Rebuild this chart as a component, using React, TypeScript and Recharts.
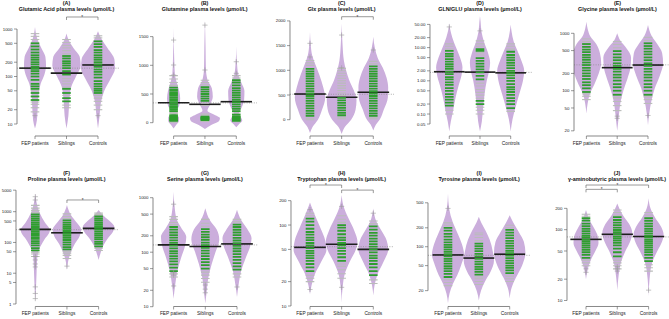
import React from "react";
import { ComposedChart, Area, Scatter, XAxis, YAxis, ReferenceLine } from "recharts";

const GROUPS = ["FEP patients", "Siblings", "Controls"];

// violin outline knots: [value, half-width in group spacings]
type Knot = [number, number];

// (A) Glutamic acid
const gluTicks = [10, 20, 50, 100, 200, 500, 1000];
const gluShape: Knot[][] = [
  [[8, 0], [12, 0.06], [25, 0.09], [45, 0.12], [70, 0.18], [110, 0.3], [170, 0.35], [260, 0.33], [400, 0.2], [600, 0.08], [1100, 0]],
  [[8, 0], [15, 0.06], [30, 0.09], [60, 0.15], [100, 0.3], [170, 0.45], [260, 0.42], [400, 0.22], [600, 0.06], [800, 0]],
  [[8, 0], [15, 0.05], [30, 0.1], [50, 0.2], [90, 0.4], [150, 0.54], [230, 0.52], [400, 0.3], [600, 0.12], [900, 0]],
];
const gluGreen = [
  [32, 38, 45, 55, 62, 70, 85, 100, 115, 130, 145, 160, 180, 200, 225, 250, 280, 320, 370, 430, 500],
  [30, 35, 45, 55, 110, 130, 150, 170, 190, 210, 240, 270],
  [45, 50, 55, 62, 70, 80, 95, 110, 125, 140, 160, 180, 200, 225, 250, 280, 320, 360, 420, 480, 550],
];
const gluGrey = [
  [18, 22, 26, 29, 50, 600, 700, 800],
  [22, 25, 40, 60, 70, 80, 90, 300, 350, 400, 450, 520, 600],
  [20, 25, 30, 35, 40, 650, 720],
];
const gluOut = [[15], [], [15]];
const gluMeans = [150, 118, 175];
const gluOverall = 150;
const gluSig = [[2, 3, 1790]];

// (B) Glutamine
const glnTicks = [0, 500, 1000, 1500];
const glnShape: Knot[][] = [
  [[-100, 0], [-40, 0.08], [30, 0.17], [90, 0.17], [150, 0.06], [200, 0.08], [300, 0.18], [420, 0.21], [550, 0.18], [700, 0.1], [850, 0.04], [1100, 0.02], [1650, 0]],
  [[-110, 0], [-40, 0.2], [30, 0.45], [80, 0.48], [140, 0.3], [210, 0.08], [300, 0.15], [450, 0.25], [600, 0.22], [750, 0.08], [950, 0.03], [1300, 0.02], [1780, 0]],
  [[-80, 0], [-20, 0.1], [40, 0.19], [100, 0.14], [160, 0.08], [250, 0.16], [400, 0.25], [550, 0.26], [700, 0.16], [850, 0.06], [1050, 0.02], [1330, 0]],
];
const glnGreen = [
  [30, 45, 60, 75, 90, 110, 130, 200, 230, 260, 290, 320, 350, 380, 410, 440, 470, 500, 530, 570, 610],
  [45, 55, 65, 75, 85, 95, 105, 380, 420, 460, 500, 540, 580, 620],
  [30, 50, 70, 90, 110, 140, 200, 240, 280, 320, 360, 400, 440, 480, 520, 560, 600, 650, 700, 740],
];
const glnGrey = [
  [10, 160, 180, 650, 700, 760, 820],
  [20, 30, 120, 150, 300, 340, 660, 700, 740],
  [15, 170, 780, 820],
];
const glnOut = [[830, 1005, 1440], [918, 1700], [860, 1062]];
const glnMeans = [348, 320, 366];
const glnOverall = 345;
const glnSig: number[][] = [];

// (C) Glx
const glxTicks = [0, 500, 1000, 1500, 2000];
const glxShape: Knot[][] = [
  [[-270, 0], [-150, 0.08], [0, 0.25], [200, 0.38], [450, 0.48], [650, 0.42], [900, 0.3], [1100, 0.18], [1300, 0.07], [1550, 0.02], [1780, 0]],
  [[-290, 0], [-150, 0.1], [0, 0.3], [200, 0.44], [400, 0.47], [600, 0.38], [800, 0.24], [1000, 0.14], [1200, 0.07], [1500, 0.03], [1950, 0]],
  [[-220, 0], [-100, 0.08], [0, 0.2], [200, 0.33], [450, 0.46], [650, 0.47], [850, 0.42], [1050, 0.3], [1250, 0.14], [1450, 0.05], [1680, 0]],
];
const glxGreen = [
  [80, 130, 180, 230, 280, 330, 380, 430, 480, 530, 580, 630, 680, 730, 780, 830, 880, 930, 980, 1030],
  [90, 140, 190, 240, 290, 340, 390, 440],
  [80, 130, 180, 230, 280, 330, 380, 430, 480, 530, 580, 630, 680, 730, 780, 830, 880, 930, 980, 1030, 1080],
];
const glxGrey = [
  [0, 30, 1100, 1150, 1200],
  [20, 50, 490, 540, 590, 640, 690, 740, 790, 840, 890, 940, 990, 1040],
  [20, 40, 1130, 1180],
];
const glxOut = [[1270, 1546], [1050, 1714], [1411]];
const glxMeans = [520, 453, 555];
const glxOverall = 515;
const glxSig = [[2, 3, 2085]];

// (D) GLN/GLU ratio
const ratioTicks = [0.05, 0.1, 0.2, 0.5, 1, 2, 5, 10, 20, 50];
const ratioShape: Knot[][] = [
  [[0.03, 0], [0.06, 0.05], [0.12, 0.12], [0.3, 0.2], [0.7, 0.3], [1.5, 0.4], [2.5, 0.43], [5, 0.35], [10, 0.22], [20, 0.1], [35, 0.03], [54, 0]],
  [[0.03, 0], [0.06, 0.06], [0.15, 0.1], [0.4, 0.15], [1, 0.22], [2, 0.3], [3.5, 0.33], [7, 0.26], [15, 0.13], [30, 0.05], [60, 0.02], [90, 0]],
  [[0.03, 0], [0.07, 0.06], [0.15, 0.15], [0.4, 0.28], [1, 0.4], [2, 0.44], [4, 0.35], [8, 0.22], [15, 0.1], [30, 0.03], [50, 0]],
];
const ratioGreen = [
  [0.18, 0.22, 0.27, 0.33, 0.4, 0.5, 0.6, 0.75, 0.9, 1.1, 1.3, 1.6, 1.9, 2.3, 2.7, 3.2, 3.8, 4.5, 5.5, 6.5, 8],
  [0.2, 0.25, 1.1, 1.4, 1.8, 2.2, 2.7, 3.3, 4, 4.8, 8, 9],
  [0.15, 0.2, 0.25, 0.3, 0.38, 0.46, 0.55, 0.65, 0.8, 1, 1.2, 1.45, 1.7, 2, 2.4, 2.9, 3.5, 4.2, 5, 6, 7.5],
];
const ratioGrey = [
  [0.1, 0.13, 9, 11, 13],
  [0.1, 0.13, 0.16, 0.3, 0.37, 0.45, 0.55, 0.7, 0.85, 6, 7, 11, 13, 16],
  [0.12, 9, 11, 13],
];
const ratioOut = [[42], [32], []];
const ratioMeans = [1.88, 1.83, 1.74];
const ratioOverall = 1.8;
const ratioSig: number[][] = [];

// (E) Glycine
const glyTicks = [20, 50, 100, 200, 500, 1000];
const glyShape: Knot[][] = [
  [[40, 0], [60, 0.04], [90, 0.12], [130, 0.26], [200, 0.4], [300, 0.48], [450, 0.44], [650, 0.32], [900, 0.12], [1200, 0.04], [1590, 0]],
  [[20, 0], [35, 0.05], [60, 0.1], [100, 0.2], [160, 0.33], [250, 0.43], [380, 0.45], [550, 0.3], [750, 0.1], [1000, 0]],
  [[25, 0], [40, 0.04], [70, 0.12], [110, 0.22], [180, 0.38], [300, 0.49], [450, 0.46], [650, 0.3], [900, 0.12], [1400, 0]],
];
const glyGreen = [
  [95, 110, 125, 140, 160, 180, 200, 225, 250, 280, 310, 345, 380, 420, 470, 520, 580, 650],
  [85, 100, 115, 130, 150, 170, 190, 215, 240, 270, 300, 340, 380, 430, 490],
  [85, 100, 115, 130, 150, 170, 190, 215, 240, 270, 300, 340, 380, 430, 480, 540, 600, 670],
];
const glyGrey = [
  [70, 80, 88, 720, 800],
  [45, 55, 65, 75, 560, 640, 720],
  [60, 70, 78, 750, 850],
];
const glyOut = [[], [33, 36], [37]];
const glyMeans = [307, 252, 280];
const glyOverall = 282;
const glySig: number[][] = [];

// (F) Proline
const proTicks = [1, 5, 10, 50, 100, 500, 1000, 5000];
const proShape: Knot[][] = [
  [[1.2, 0], [3, 0.02], [10, 0.04], [30, 0.06], [60, 0.12], [120, 0.28], [250, 0.46], [450, 0.3], [900, 0.14], [2000, 0.04], [3900, 0]],
  [[13, 0], [25, 0.04], [50, 0.13], [90, 0.25], [160, 0.4], [260, 0.45], [450, 0.3], [800, 0.12], [1650, 0]],
  [[27, 0], [45, 0.06], [80, 0.15], [140, 0.3], [220, 0.45], [320, 0.5], [500, 0.35], [800, 0.12], [1130, 0]],
];
const proGreen = [
  [55, 65, 80, 95, 110, 130, 150, 175, 200, 230, 260, 300, 340, 390, 450, 520, 600, 700, 820],
  [60, 70, 85, 100, 120, 140, 165, 190, 220, 250, 290, 330, 380, 440, 520],
  [75, 90, 105, 125, 145, 170, 195, 225, 260, 300, 340, 390, 450, 520, 600, 700],
];
const proGrey = [
  [35, 42, 48, 950, 1100, 1300, 1600],
  [30, 38, 45, 52, 600, 700, 850],
  [55, 65, 800, 900],
];
const proOut = [[1.5, 2.2, 3.6, 16, 20, 27, 35, 2400, 3070], [17], []];
const proMeans = [266, 206, 287];
const proOverall = 260;
const proSig = [[2, 3, 2400]];

// (G) Serine
const serTicks = [10, 20, 50, 100, 200, 500, 1000];
const serShape: Knot[][] = [
  [[14, 0], [25, 0.05], [45, 0.12], [80, 0.24], [130, 0.36], [190, 0.4], [280, 0.24], [400, 0.1], [700, 0.03], [1290, 0]],
  [[11.5, 0], [18, 0.04], [35, 0.1], [60, 0.2], [100, 0.32], [170, 0.44], [260, 0.36], [380, 0.15], [640, 0]],
  [[15, 0], [25, 0.05], [45, 0.13], [80, 0.28], [130, 0.42], [180, 0.46], [270, 0.32], [400, 0.12], [600, 0]],
];
const serGreen = [
  [45, 52, 60, 68, 76, 85, 95, 105, 118, 132, 148, 165, 185, 205, 230, 260, 290],
  [50, 58, 66, 75, 85, 95, 107, 120, 135, 150, 168, 188, 210, 235, 265],
  [48, 55, 63, 72, 82, 92, 104, 117, 131, 147, 164, 183, 205, 230, 258, 290, 320],
];
const serGrey = [
  [35, 40, 320, 350, 400, 450],
  [28, 33, 38, 43, 300, 340, 400],
  [35, 40, 360, 400],
];
const serOut = [[24, 38, 42, 760], [18, 21, 25], [23]];
const serMeans = [136, 127, 142];
const serOverall = 136;
const serSig: number[][] = [];

// (H) Tryptophan
const trpTicks = [10, 20, 50, 100, 200];
const trpShape: Knot[][] = [
  [[14, 0], [18, 0.05], [25, 0.16], [35, 0.35], [50, 0.52], [65, 0.48], [90, 0.34], [120, 0.2], [160, 0.07], [190, 0]],
  [[11, 0], [17, 0.03], [25, 0.1], [35, 0.25], [50, 0.45], [62, 0.5], [85, 0.4], [120, 0.22], [170, 0.06], [235, 0]],
  [[13.5, 0], [18, 0.04], [25, 0.14], [35, 0.32], [50, 0.47], [65, 0.42], [85, 0.26], [110, 0.1], [160, 0]],
];
const trpGreen = [
  [27, 30, 33, 36, 39, 42, 45, 48, 52, 56, 60, 65, 70, 76, 82, 90, 100, 110, 120],
  [36, 40, 44, 48, 52, 56, 60, 65, 70, 77, 85, 93, 100],
  [24, 27, 30, 33, 36, 39, 42, 46, 50, 54, 58, 63, 68, 74, 80, 88, 96],
];
const trpGrey = [
  [20, 22, 24, 130, 140],
  [22, 25, 28, 31, 33, 108, 118, 130],
  [19, 21, 104, 112],
];
const trpOut = [[16, 155], [17, 170], [140]];
const trpMeans = [53, 58, 50];
const trpOverall = 54;
const trpSig = [[1, 2, 312], [2, 3, 270]];

// (I) Tyrosine
const tyrTicks = [20, 50, 100, 200, 500];
const tyrShape: Knot[][] = [
  [[12.6, 0], [18, 0.05], [25, 0.15], [35, 0.3], [50, 0.42], [75, 0.52], [110, 0.45], [160, 0.32], [250, 0.15], [400, 0.04], [706, 0]],
  [[14, 0], [20, 0.07], [28, 0.2], [40, 0.38], [60, 0.49], [85, 0.45], [130, 0.35], [180, 0.22], [240, 0.08], [300, 0]],
  [[15, 0], [22, 0.06], [32, 0.2], [50, 0.4], [80, 0.51], [120, 0.46], [170, 0.3], [240, 0.12], [318, 0]],
];
const tyrGreen = [
  [33, 37, 41, 45, 49, 54, 59, 64, 70, 76, 83, 90, 98, 107, 117, 130, 145, 160, 180, 200],
  [36, 40, 44, 48, 53, 58, 64, 70, 77, 85, 93, 102, 112],
  [38, 42, 46, 50, 55, 60, 66, 72, 79, 86, 94, 103, 113, 124, 137, 152, 168, 185],
];
const tyrGrey = [
  [24, 27, 30, 220, 240],
  [25, 28, 31, 33, 125, 140, 155, 165],
  [28, 31, 34, 200, 220],
];
const tyrOut = [[407], [], []];
const tyrMeans = [74, 66, 76];
const tyrOverall = 73;
const tyrSig: number[][] = [];

// (J) GABA
const gabaTicks = [10, 20, 50, 100, 200];
const gabaShape: Knot[][] = [
  [[20, 0], [28, 0.06], [38, 0.16], [50, 0.3], [65, 0.4], [80, 0.38], [105, 0.26], [140, 0.1], [189, 0]],
  [[14, 0], [22, 0.04], [35, 0.12], [50, 0.26], [70, 0.42], [90, 0.48], [120, 0.38], [160, 0.18], [235, 0]],
  [[11.4, 0], [20, 0.03], [35, 0.12], [50, 0.28], [70, 0.44], [85, 0.48], [110, 0.4], [150, 0.2], [200, 0.06], [277, 0]],
];
const gabaGreen = [
  [40, 44, 48, 52, 56, 60, 64, 68, 72, 77, 82, 88, 95, 103, 112, 122, 134, 145],
  [42, 48, 54, 60, 65, 70, 75, 80, 86, 92, 99, 107, 116, 126, 137, 150],
  [36, 40, 44, 48, 52, 56, 60, 64, 68, 72, 77, 82, 88, 95, 103, 112, 122, 133, 145],
];
const gabaGrey = [
  [31, 34, 37, 155, 165],
  [28, 31, 34, 37, 160, 175, 190],
  [26, 29, 32, 160, 175],
];
const gabaOut = [[25, 28], [26, 28, 30], [14]];
const gabaMeans = [73, 86, 80];
const gabaOverall = 79;
const gabaSig = [[1, 3, 427], [1, 2, 371]];

const VIOLIN = "#cbaedc";
const GREEN = "#2f9e2f";
const GREY = "#b9bcb9";
const FONT = "'Liberation Sans', Arial, sans-serif";

const fmt = (v: number) => String(v);
const fmt2 = (v: number) => v.toFixed(2);

const panels = [
  { letter: "(A)", title: "Glutamic Acid plasma levels (μmol/L)", log: true, domain: [5.59, 2070], ticks: gluTicks, fmt, axisX: 17, g1: 35, g3: 98, row: 0, shape: gluShape, green: gluGreen, grey: gluGrey, out: gluOut, means: gluMeans, overall: gluOverall, sig: gluSig },
  { letter: "(B)", title: "Glutamine plasma levels (μmol/L)", log: false, domain: [-232, 1894], ticks: glnTicks, fmt, axisX: 152.7, g1: 173.3, g3: 236, row: 0, shape: glnShape, green: glnGreen, grey: glnGrey, out: glnOut, means: glnMeans, overall: glnOverall, sig: glnSig },
  { letter: "(C)", title: "Glx plasma levels (μmol/L)", log: false, domain: [-330, 2140], ticks: glxTicks, fmt, axisX: 290, g1: 310, g3: 373.3, row: 0, shape: glxShape, green: glxGreen, grey: glxGrey, out: glxOut, means: glxMeans, overall: glxOverall, sig: glxSig },
  { letter: "(D)", title: "GLN/GLU plasma levels (μmol/L)", log: true, domain: [0.0218, 102.9], ticks: ratioTicks, fmt: fmt2, axisX: 430, g1: 449.3, g3: 510.7, row: 0, shape: ratioShape, green: ratioGreen, grey: ratioGrey, out: ratioOut, means: ratioMeans, overall: ratioOverall, sig: ratioSig },
  { letter: "(E)", title: "Glycine plasma levels (μmol/L)", log: true, domain: [16.25, 2169], ticks: glyTicks, fmt, axisX: 574.3, g1: 586.7, g3: 648.3, row: 0, shape: glyShape, green: glyGreen, grey: glyGrey, out: glyOut, means: glyMeans, overall: glyOverall, sig: glySig },
  { letter: "(F)", title: "Proline plasma levels (μmol/L)", log: true, domain: [0.83, 9210], ticks: proTicks, fmt, axisX: 15.7, g1: 35, g3: 98.3, row: 1, shape: proShape, green: proGreen, grey: proGrey, out: proOut, means: proMeans, overall: proOverall, sig: proSig },
  { letter: "(G)", title: "Serine plasma levels (μmol/L)", log: true, domain: [10.08, 1941], ticks: serTicks, fmt, axisX: 152.7, g1: 173.3, g3: 236.7, row: 1, shape: serShape, green: serGreen, grey: serGrey, out: serOut, means: serMeans, overall: serOverall, sig: serSig },
  { letter: "(H)", title: "Tryptophan plasma levels (μmol/L)", log: true, domain: [9.86, 340], ticks: trpTicks, fmt, axisX: 291, g1: 310, g3: 373.3, row: 1, shape: trpShape, green: trpGreen, grey: trpGrey, out: trpOut, means: trpMeans, overall: trpOverall, sig: trpSig },
  { letter: "(I)", title: "Tyrosine plasma levels (μmol/L)", log: true, domain: [11.19, 1071], ticks: tyrTicks, fmt, axisX: 428.3, g1: 448.3, g3: 510, row: 1, shape: tyrShape, green: tyrGreen, grey: tyrGrey, out: tyrOut, means: tyrMeans, overall: tyrOverall, sig: tyrSig },
  { letter: "(J)", title: "γ-aminobutyric plasma levels (μmol/L)", log: true, domain: [8.23, 471], ticks: gabaTicks, fmt, axisX: 566.7, g1: 585.7, g3: 648.3, row: 1, shape: gabaShape, green: gabaGreen, grey: gabaGrey, out: gabaOut, means: gabaMeans, overall: gabaOverall, sig: gabaSig },
];

const beanLine = (color: string, w: number) => (props: any) => (
  <line x1={props.cx - 4.3} x2={props.cx + 4.3} y1={props.cy} y2={props.cy} stroke={color} strokeWidth={w} />
);

const crossMark = (props: any) => (
  <g stroke="#9c9c9c" strokeWidth={0.6}>
    <line x1={props.cx - 2.6} x2={props.cx + 2.6} y1={props.cy} y2={props.cy} />
    <line x1={props.cx} x2={props.cx} y1={props.cy - 2.6} y2={props.cy + 2.6} />
  </g>
);

const bracket = (props: any) => {
  const { x1, y1, x2 } = props;
  return (
    <g>
      <path d={`M${x1},${y1 + 3}V${y1}H${x2}V${y1 + 3}`} fill="none" stroke="#555" strokeWidth={0.6} />
      <text x={(x1 + x2) / 2} y={y1 + 1.8} fontSize={4.6} textAnchor="middle" fill="#333">*</text>
    </g>
  );
};

function Panel({ p }: { p: any }) {
  const s = (p.g3 - p.g1) / 2;
  const YW = 24;
  const plotW = p.g3 - p.axisX + 21;
  const xMin = 1 - (p.g1 - p.axisX) / s;
  const xMax = xMin + plotW / s;
  const top = p.row === 0 ? 0 : 170;
  const mTop = p.row === 0 ? 14 : 12;
  const xh = p.row === 0 ? 14 : 13.5;
  const tMin = p.ticks[0];
  const tMax = p.ticks[p.ticks.length - 1];
  const g2 = (p.g1 + p.g3) / 2;
  return (
    <>
      <div style={{ position: "absolute", left: g2 - 70, top: top, width: 140, textAlign: "center", fontSize: 5.4, fontWeight: "bold", lineHeight: "6px", color: "#111" }}>
        {p.letter}
        <br />
        {p.title}
      </div>
      <div style={{ position: "absolute", left: p.axisX - YW, top, width: YW + plotW, height: 150 }}>
        <ComposedChart layout="vertical" width={YW + plotW} height={150} margin={{ top: mTop, right: 0, bottom: 0, left: 0 }}>
          <XAxis type="number" dataKey="x" domain={[xMin, xMax]} allowDataOverflow ticks={[1, 2, 3]} interval={0}
            tickFormatter={(t: number) => GROUPS[Math.round(t) - 1]} axisLine={false} height={xh} tickSize={3} tickMargin={2.5}
            tick={{ fontSize: 4.8, fill: "#222" }} tickLine={{ stroke: "#555", strokeWidth: 0.6 }} />
          <YAxis type="number" dataKey="v" scale={p.log ? "log" : "linear"} domain={p.domain} allowDataOverflow reversed ticks={p.ticks} interval={0}
            tickFormatter={p.fmt} axisLine={false} width={YW} tickSize={3} tickMargin={1.5}
            tick={{ fontSize: 4.4, fill: "#222" }} tickLine={{ stroke: "#555", strokeWidth: 0.6 }} />
          <ReferenceLine y={p.overall} stroke="#8a8a8a" strokeDasharray="1 1.4" strokeWidth={0.7} />
          {p.shape.map((knots: Knot[], i: number) => (
            <Area key={"v" + i} data={knots.map(([v, w]) => ({ v, r: [i + 1 - w, i + 1 + w] }))} dataKey="r" type="monotone"
              fill={VIOLIN} fillOpacity={1} stroke="none" isAnimationActive={false} />
          ))}
          {p.grey.map((vals: number[], i: number) => (
            <Scatter key={"g" + i} data={vals.map((v) => ({ x: i + 1, v }))} shape={beanLine(GREY, 1.1)} isAnimationActive={false} />
          ))}
          {p.green.map((vals: number[], i: number) => (
            <Scatter key={"n" + i} data={vals.map((v) => ({ x: i + 1, v }))} shape={beanLine(GREEN, 1.8)} isAnimationActive={false} />
          ))}
          {p.out.map((vals: number[], i: number) => (
            <Scatter key={"o" + i} data={vals.map((v) => ({ x: i + 1, v }))} shape={crossMark} isAnimationActive={false} />
          ))}
          {p.means.map((m: number, i: number) => (
            <ReferenceLine key={"m" + i} segment={[{ x: i + 0.5, y: m }, { x: i + 1.5, y: m }]} stroke="#1e1e1e" strokeWidth={1.6} />
          ))}
          <ReferenceLine segment={[{ x: xMin, y: tMin }, { x: xMin, y: tMax }]} stroke="#555" strokeWidth={0.7} ifOverflow="visible" />
          <ReferenceLine segment={[{ x: 1, y: p.domain[0] }, { x: 3, y: p.domain[0] }]} stroke="#555" strokeWidth={0.7} ifOverflow="visible" />
          {p.sig.map((b: number[], i: number) => (
            <ReferenceLine key={"s" + i} segment={[{ x: b[0], y: b[2] }, { x: b[1], y: b[2] }]} ifOverflow="visible" shape={bracket} />
          ))}
        </ComposedChart>
      </div>
    </>
  );
}

export default function App() {
  return (
    <div style={{ position: "absolute", left: 0, top: 0, width: 669, height: 319, background: "#fff", overflow: "hidden", fontFamily: FONT }}>
      {panels.map((p) => (
        <Panel key={p.letter} p={p} />
      ))}
    </div>
  );
}
